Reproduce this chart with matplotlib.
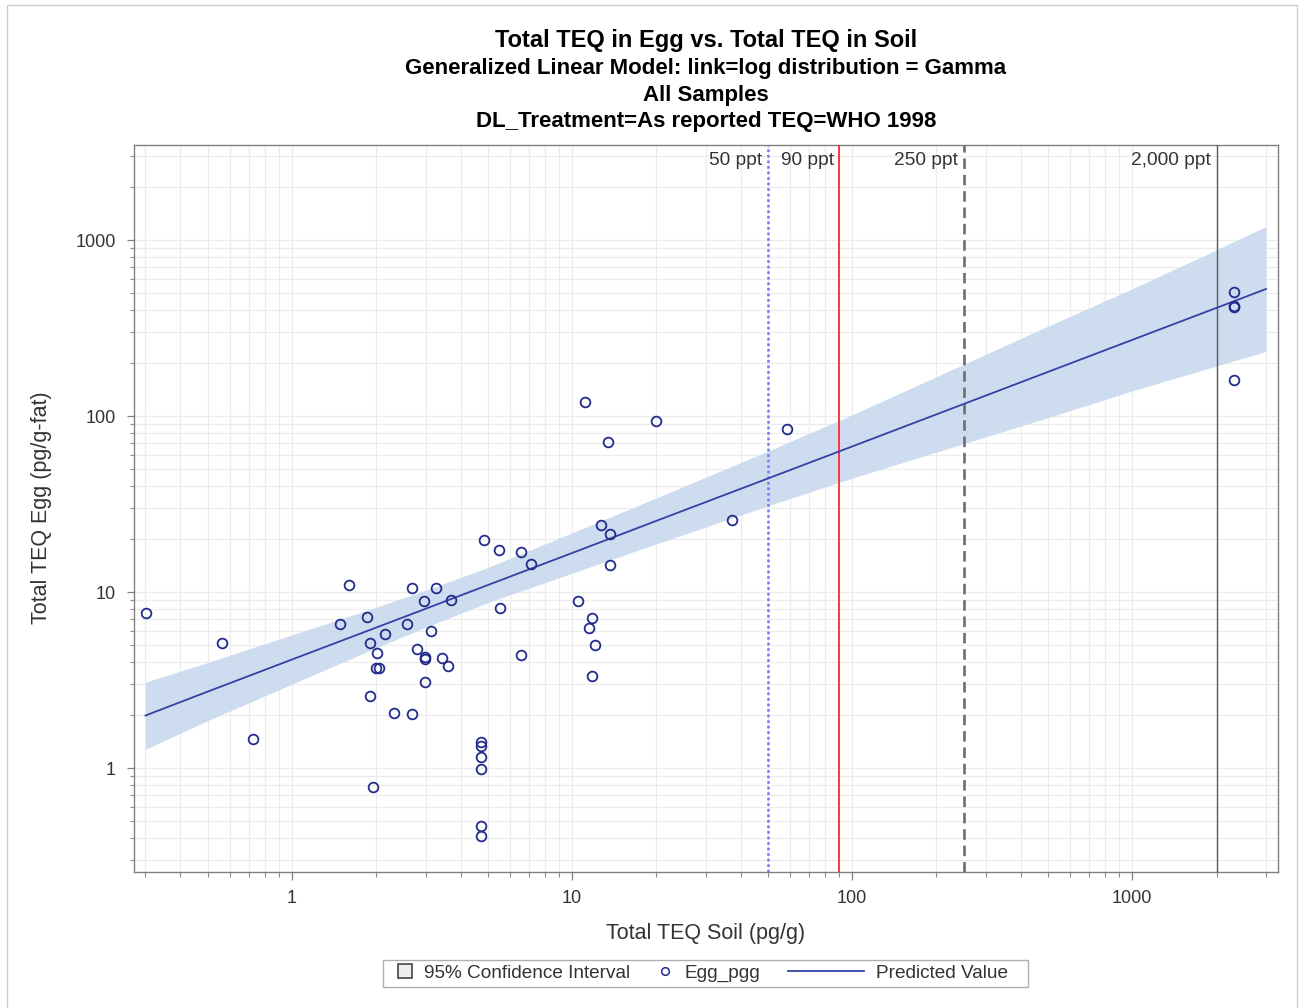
import matplotlib
matplotlib.use('Agg')
import matplotlib.pyplot as plt
import matplotlib.ticker as mticker
from matplotlib.lines import Line2D
from matplotlib.patches import Patch, Rectangle
from matplotlib.legend_handler import HandlerLine2D

plt.rcParams['font.family'] = ['Liberation Sans', 'DejaVu Sans']

# ---------------- data ----------------
soil_x = [0.301, 0.563, 0.727, 1.594, 1.483, 1.853, 1.894, 2.005, 1.998, 2.043,
          1.900, 1.948, 2.153, 2.315, 2.584, 2.675, 2.684, 2.786, 2.957, 3.138,
          2.984, 2.984, 2.994, 3.26, 3.44, 3.61, 3.71,
          4.75, 4.75, 4.75, 4.75, 4.75, 4.75,
          4.86, 5.47, 5.54, 6.56, 6.56, 7.16,
          10.47, 11.1, 11.5, 11.8, 12.1, 11.8, 12.7, 13.4, 13.7, 13.7,
          19.9, 37.2, 58.7,
          2317, 2317, 2317, 2317]
egg_y = [7.63, 5.13, 1.46, 11.0, 6.60, 7.18, 5.13, 4.49, 3.69, 3.69,
         2.58, 0.78, 5.77, 2.07, 6.60, 10.6, 2.03, 4.73, 8.89, 6.00,
         4.29, 4.15, 3.08, 10.6, 4.20, 3.81, 9.04,
         1.40, 1.34, 1.15, 0.99, 0.47, 0.41,
         19.8, 17.3, 8.08, 16.9, 4.39, 14.5,
         8.89, 120.6, 6.22, 7.14, 5.02, 3.33, 24.2, 71.2, 21.4, 14.2,
         93.7, 25.6, 84.7,
         506, 422, 418, 160]

fit_x = [0.3, 0.5, 1, 2, 3, 5, 10, 20, 50, 100, 250, 500, 1000, 2000, 3000]
fit_pred = [1.99, 2.72, 4.14, 6.29, 8.04, 10.96, 16.67, 25.4, 44.2, 67.2,
            117.1, 178.2, 271, 412, 527]
ci_lower = [1.28, 1.86, 3.00, 4.83, 6.31, 8.71, 12.8, 18.8, 30.9, 44.4,
            69.7, 97.9, 139.0, 192.7, 232.7]
ci_upper = [3.08, 3.98, 5.71, 8.20, 10.24, 13.80, 21.7, 34.3, 63.2, 101.7,
            196.6, 324.3, 528.5, 880.9, 1193.6]

ref_x = [50, 90, 250, 2000]
ref_labels = ['50 ppt', '90 ppt', '250 ppt', '2,000 ppt']

x_ticks = [1, 10, 100, 1000]
x_tick_labels = ['1', '10', '100', '1000']
y_ticks = [1, 10, 100, 1000]
y_tick_labels = ['1', '10', '100', '1000']

title_lines = ['Total TEQ in Egg vs. Total TEQ in Soil',
               'Generalized Linear Model: link=log distribution = Gamma',
               'All Samples',
               'DL_Treatment=As reported TEQ=WHO 1998']

# ---------------- figure ----------------
W, H = 1304, 1008
fig = plt.figure(figsize=(W / 100, H / 100), dpi=100)
fig.patch.set_facecolor('white')

left, right, top, bottom = 134, 1278, 145, 872
ax = fig.add_axes([left / W, 1 - bottom / H, (right - left) / W, (bottom - top) / H])
ax.set_xscale('log')
ax.set_yscale('log')
ax.set_xlim(0.273, 3313)
ax.set_ylim(0.257, 3467)

# grid
ax.grid(True, which='both', color='#ececec', lw=0.8, zorder=0)
ax.set_axisbelow(True)

# confidence band and fit
ax.fill_between(fit_x, ci_lower, ci_upper, color='#c8d9ee', lw=0, zorder=1, alpha=0.9)
ax.plot(fit_x, fit_pred, color='#3341a6', lw=1.3, zorder=4)

# reference lines
ref_styles = [
    dict(color='#7b7bff', lw=1.9, ls=(0, (1, 1.1))),
    dict(color='#ff2a2a', lw=1.3, ls='-'),
    dict(color='#6e6e6e', lw=1.9, ls=(0, (4, 2.2))),
    dict(color='#5a5a5a', lw=1.0, ls='-'),
]
for xv, lab, st in zip(ref_x, ref_labels, ref_styles):
    ax.axvline(xv, zorder=3, **st)
    ax.annotate(lab, xy=(xv, 0.978), xycoords=('data', 'axes fraction'),
                xytext=(-4, 0), textcoords='offset points',
                ha='right', va='center', fontsize=13.8, color='#333333')

# scatter
ax.plot(soil_x, egg_y, ls='none', marker='o', ms=7, mfc='none',
        mec='#222c8a', mew=1.3, zorder=5)

# ticks
ax.xaxis.set_major_locator(mticker.FixedLocator(x_ticks))
ax.xaxis.set_major_formatter(mticker.FixedFormatter(x_tick_labels))
ax.yaxis.set_major_locator(mticker.FixedLocator(y_ticks))
ax.yaxis.set_major_formatter(mticker.FixedFormatter(y_tick_labels))
ax.xaxis.set_minor_locator(mticker.LogLocator(base=10, subs=range(2, 10), numticks=20))
ax.yaxis.set_minor_locator(mticker.LogLocator(base=10, subs=range(2, 10), numticks=20))
ax.xaxis.set_minor_formatter(mticker.NullFormatter())
ax.yaxis.set_minor_formatter(mticker.NullFormatter())
ax.tick_params(axis='x', which='major', length=6, width=0.9, pad=7,
               labelsize=13, colors='#808080', labelcolor='#333333')
ax.tick_params(axis='x', which='minor', length=3.5, width=0.8, colors='#909090')
ax.tick_params(axis='y', which='major', length=5, width=0.9, pad=8,
               labelsize=13, colors='#808080', labelcolor='#333333')
ax.tick_params(axis='y', which='minor', length=3, width=0.8, colors='#909090')
for s in ax.spines.values():
    s.set_color('#808080')
    s.set_linewidth(1.0)

# axis labels
fig.text((left + right) / 2 / W, 1 - 933 / H, 'Total TEQ Soil (pg/g)',
         ha='center', va='center', fontsize=15.5, color='#333333')
fig.text(42 / W, 1 - 508 / H, 'Total TEQ Egg (pg/g-fat)', rotation=90,
         ha='center', va='center', fontsize=15.5, color='#333333')

# titles
baselines = [47, 74, 101, 127]
sizes = [17, 16, 16, 16]
for txt, b, sz in zip(title_lines, baselines, sizes):
    fig.text((left + right) / 2 / W, 1 - b / H, txt, ha='center', va='baseline',
             fontsize=sz, fontweight='bold', color='black')

# legend
class LongLine(HandlerLine2D):
    def __init__(self, factor, **kw):
        super().__init__(**kw)
        self.factor = factor

    def legend_artist(self, legend, orig_handle, fontsize, handlebox):
        handlebox.width *= self.factor
        return super().legend_artist(legend, orig_handle, fontsize, handlebox)

h_ci = Patch(facecolor='#eeeeee', edgecolor='#444444', lw=1.2)
h_pt = Line2D([], [], ls='none', marker='o', ms=5.5, mfc='none', mec='#222c8a', mew=1.1)
h_ln = Line2D([], [], color='#3341a6', lw=1.3)
leg = fig.legend([h_ci, h_pt, h_ln], ['95% Confidence Interval', 'Egg_pgg', 'Predicted Value'],
                 loc='center', bbox_to_anchor=(703 / W, 1 - 973 / H), ncol=3,
                 fontsize=13.7, frameon=False, handlelength=0.75,
                 handleheight=0.75, handletextpad=0.65, columnspacing=1.45,
                 borderpad=0.25, handler_map={h_ln: LongLine(5.3)})
for t in leg.get_texts():
    t.set_color('#333333')
fig.patches.append(Rectangle((383 / W, 1 - 987 / H), (1028 - 383) / W, 27 / H,
                             transform=fig.transFigure, fill=False,
                             edgecolor='#b0b0b0', lw=1.0))

# outer frame
fig.patches.append(Rectangle((7 / W, -0.01), (1297 - 7) / W, 1.01 - 5 / H,
                             transform=fig.transFigure, fill=False,
                             edgecolor='#cccccc', lw=1.0))

fig.savefig('out.png', dpi=100)
